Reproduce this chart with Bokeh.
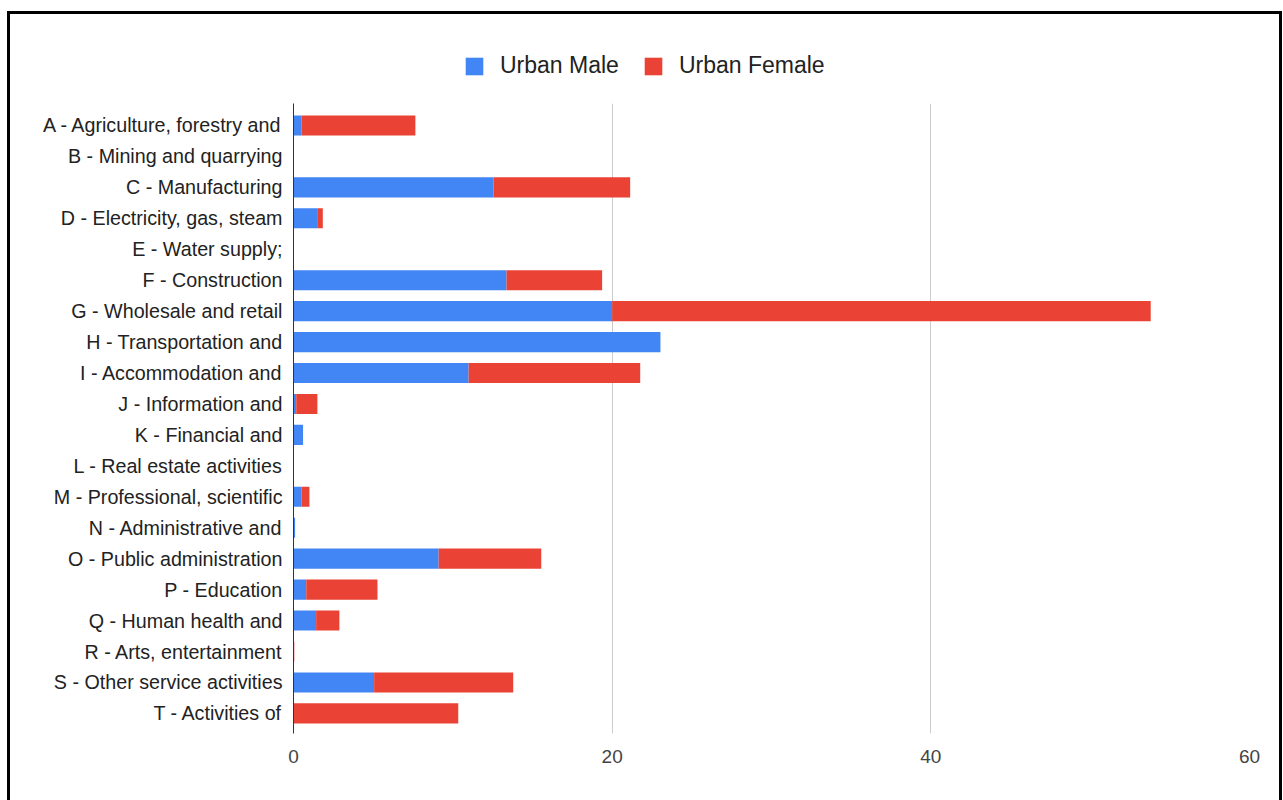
from bokeh.plotting import figure
from bokeh.layouts import column
from bokeh.models import ColumnDataSource, Range1d, FixedTicker, Legend, LegendItem
from bokeh.embed import file_html
from bokeh.resources import INLINE

categories = [
    "A - Agriculture, forestry and",
    "B - Mining and quarrying",
    "C - Manufacturing",
    "D - Electricity, gas, steam",
    "E - Water supply;",
    "F - Construction",
    "G - Wholesale and retail",
    "H - Transportation and",
    "I - Accommodation and",
    "J - Information and",
    "K - Financial and",
    "L - Real estate activities",
    "M - Professional, scientific",
    "N - Administrative and",
    "O - Public administration",
    "P - Education",
    "Q - Human health and",
    "R - Arts, entertainment",
    "S - Other service activities",
    "T - Activities of",
]
urban_male = [0.5, 0, 12.56, 1.53, 0, 13.37, 20.0, 23.03, 10.99, 0.17,
              0.6, 0, 0.5, 0.1, 9.11, 0.8, 1.42, 0, 5.06, 0]
urban_female = [7.15, 0, 8.57, 0.31, 0, 6.0, 33.8, 0, 10.77, 1.33,
                0, 0, 0.5, 0, 6.44, 4.47, 1.46, 0.05, 8.73, 10.34]
x_ticks = [0, 20, 40, 60]
series = ["Urban Male", "Urban Female"]
colors = ["#4285F4", "#EA4335"]

positions = list(range(len(categories)))
source = ColumnDataSource(dict(y=positions, male=urban_male, female=urban_female))

FONT = "Liberation Sans"

# ---- legend strip (top); its frame is aligned with the main chart's frame ----
lf = figure(width=1269, height=89, output_backend="svg", toolbar_location=None,
            x_range=Range1d(0, 60), y_range=Range1d(100, 101),
            x_axis_location=None, y_axis_location=None,
            min_border_left=283, min_border_right=30, min_border_top=0, min_border_bottom=0)
lf.outline_line_color = None
lf.xgrid.grid_line_color = None
lf.ygrid.grid_line_color = None
leg_renderers = lf.hbar_stack(["male", "female"], y="y", height=0.65, color=colors,
                              line_color=None, source=source)
legend = Legend(items=[LegendItem(label=series[i], renderers=[leg_renderers[i]]) for i in range(2)],
                orientation="horizontal", location=(170, 24),
                border_line_color=None, background_fill_alpha=0, padding=0, margin=0,
                spacing=23, glyph_width=22, glyph_height=22, label_standoff=15,
                label_text_font_size="23px", label_text_color="#222222",
                label_text_font=FONT, label_height=22)
lf.add_layout(legend)

# ---- main chart ----
p = figure(width=1269, height=711, output_backend="svg", toolbar_location=None,
           x_range=Range1d(0, 60), y_range=Range1d(19.65, -0.71),
           min_border_left=283, min_border_right=30, min_border_top=0,
           min_border_bottom=81)
p.outline_line_color = None
p.background_fill_color = "white"
p.border_fill_color = "white"

renderers = p.hbar_stack(["male", "female"], y="y", height=0.65, color=colors,
                         line_color=None, source=source)

p.xaxis.ticker = FixedTicker(ticks=x_ticks)
p.xaxis.axis_line_color = None
p.xaxis.major_tick_line_color = None
p.xaxis.minor_tick_line_color = None
p.xaxis.major_label_text_color = "#444444"
p.xaxis.major_label_text_font_size = "19px"
p.xaxis.major_label_text_font = FONT
p.xaxis.major_label_standoff = 10

p.xgrid.ticker = FixedTicker(ticks=x_ticks)
p.xgrid.grid_line_color = "#cccccc"
p.ygrid.grid_line_color = None

p.yaxis.ticker = FixedTicker(ticks=positions)
p.yaxis.major_label_overrides = {i: c for i, c in enumerate(categories)}
p.yaxis.axis_line_color = "#333333"
p.yaxis.major_tick_line_color = None
p.yaxis.minor_tick_line_color = None
p.yaxis.major_label_standoff = 5
p.yaxis.major_label_text_font_size = "19.7px"
p.yaxis.major_label_text_font = FONT
p.yaxis.major_label_text_color = "#222222"

layout = column(lf, p, spacing=0)
layout.margin = (11, 0, 0, 7)
layout.styles = {"border": "3px solid black", "background-color": "white"}

open("out.html", "w").write(file_html(layout, INLINE))
